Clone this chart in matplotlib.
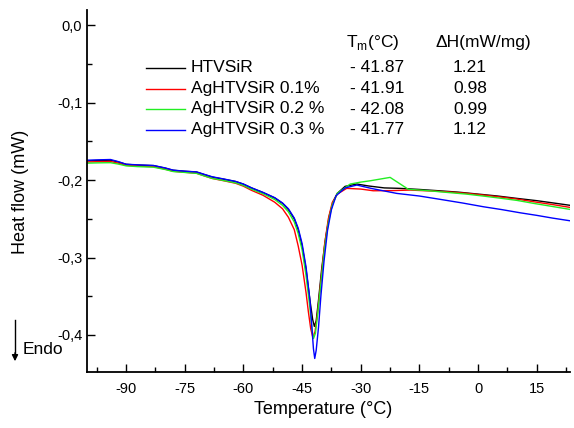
import numpy as np
import matplotlib.pyplot as plt
from matplotlib.ticker import FuncFormatter, MultipleLocator

plt.rcParams['font.family'] = ['Liberation Sans', 'DejaVu Sans']
plt.rcParams['axes.unicode_minus'] = False

# temperature (°C) / heat flow (mW)
t_black = [-100, -97, -94, -92, -90, -87, -83, -80, -78, -75, -72, -70, -68, -65, -62, -60,
           -58, -55, -52, -50, -48.5, -47, -46, -45, -44, -43, -42.3, -41.87, -41.4, -40.8,
           -40, -39, -38, -37, -36, -34, -31, -28, -24, -20, -15, -10, -5, 0, 5, 10, 15, 20, 23.5]
v_black = [-0.1750, -0.1745, -0.1742, -0.1765, -0.1795, -0.1805, -0.1812, -0.1845, -0.1872,
           -0.1885, -0.1895, -0.1928, -0.1960, -0.1988, -0.2018, -0.2052, -0.2100, -0.2160,
           -0.2230, -0.2300, -0.2380, -0.2500, -0.2640, -0.2850, -0.3150, -0.3550, -0.3800,
           -0.3890, -0.3820, -0.3550, -0.3150, -0.2750, -0.2450, -0.2270, -0.2170, -0.2080,
           -0.2050, -0.2075, -0.2100, -0.2106, -0.2120, -0.2137, -0.2155, -0.2180, -0.2205,
           -0.2236, -0.2265, -0.2300, -0.2325]

t_red = [-100, -97, -94, -92, -90, -87, -83, -80, -78, -75, -72, -70, -68, -65, -62, -60,
         -58, -55, -52, -50, -48.5, -47, -46, -45, -44, -43.4, -42.8, -42.25, -41.7, -41.0,
         -40.2, -39.3, -38.3, -37.3, -36, -33.6, -30, -26.8, -22, -17.4, -12, -8, -3, 1.4,
         6, 10, 14.2, 19, 23.5]
v_red = [-0.1765, -0.1760, -0.1758, -0.1780, -0.1808, -0.1818, -0.1825, -0.1858, -0.1885,
         -0.1898, -0.1910, -0.1945, -0.1978, -0.2008, -0.2040, -0.2078, -0.2130, -0.2195,
         -0.2285, -0.2370, -0.2480, -0.2640, -0.2850, -0.3100, -0.3450, -0.3700, -0.3920,
         -0.4034, -0.3960, -0.3700, -0.3300, -0.2850, -0.2500, -0.2290, -0.2180, -0.2106,
         -0.2115, -0.2137, -0.2135, -0.2128, -0.2140, -0.2150, -0.2170, -0.2193, -0.2220,
         -0.2245, -0.2279, -0.2315, -0.2352]

t_green = [-100, -97, -94, -92, -90, -87, -83, -80, -78, -75, -72, -70, -68, -65, -62, -60,
           -58, -55, -52, -50, -48.5, -47, -46, -45, -44, -43, -42.5, -42.08, -41.6, -41.0,
           -40.2, -39.3, -38.3, -37.3, -36, -32.7, -30, -27.6, -22.5, -17.8, -13, -8, -3,
           1.4, 6, 10, 14.2, 19, 23.5]
v_green = [-0.1780, -0.1776, -0.1774, -0.1792, -0.1815, -0.1825, -0.1832, -0.1862, -0.1888,
           -0.1900, -0.1912, -0.1945, -0.1976, -0.2005, -0.2035, -0.2068, -0.2115, -0.2175,
           -0.2250, -0.2325, -0.2410, -0.2540, -0.2690, -0.2900, -0.3230, -0.3650, -0.3920,
           -0.4047, -0.3980, -0.3720, -0.3335, -0.2900, -0.2550, -0.2320, -0.2170, -0.2050,
           -0.2025, -0.2008, -0.1964, -0.2119, -0.2135, -0.2158, -0.2180, -0.2206, -0.2235,
           -0.2262, -0.2300, -0.2340, -0.2378]

t_blue = [-100, -97, -94, -92, -90, -87, -83, -80, -78, -75, -72, -70, -68, -65, -62, -60,
          -58, -55, -52, -50, -48.5, -47, -46, -45, -44, -43, -42.5, -42.1, -41.77, -41.4,
          -40.8, -40.2, -39.4, -38.5, -37.5, -36.3, -34, -31, -27, -20.8, -15, -9.7, -4,
          1.4, 6, 10.8, 15, 19, 23.5]
v_blue = [-0.1742, -0.1737, -0.1733, -0.1760, -0.1794, -0.1802, -0.1810, -0.1842, -0.1870,
          -0.1884, -0.1893, -0.1925, -0.1956, -0.1985, -0.2016, -0.2050, -0.2097, -0.2158,
          -0.2226, -0.2295, -0.2370, -0.2490, -0.2620, -0.2820, -0.3120, -0.3550, -0.3900,
          -0.4180, -0.4305, -0.4200, -0.3900, -0.3500, -0.3050, -0.2650, -0.2380, -0.2200,
          -0.2100, -0.2063, -0.2110, -0.2171, -0.2205, -0.2248, -0.2295, -0.2344, -0.2380,
          -0.2422, -0.2455, -0.2490, -0.2525]

series = [
    ('HTVSiR', t_black, v_black, 'black', '- 41.87', '1.21'),
    ('AgHTVSiR 0.1%', t_red, v_red, 'red', '- 41.91', '0.98'),
    ('AgHTVSiR 0.2 %', t_green, v_green, '#22ee22', '- 42.08', '0.99'),
    ('AgHTVSiR 0.3 %', t_blue, v_blue, 'blue', '- 41.77', '1.12'),
]

W, H = 574, 428
fig = plt.figure(figsize=(W / 100, H / 100), dpi=100)
ax = fig.add_axes([87 / W, 1 - 372 / H, (570 - 87) / W, (372 - 10) / H])

for name, t, v, c, tm, dh in series:
    ax.plot(t, v, color=c, lw=1.0)

ax.set_xlim(-100, 23.5)
ax.set_ylim(-0.448, 0.02)
ax.xaxis.set_major_locator(MultipleLocator(15))
ax.xaxis.set_minor_locator(MultipleLocator(7.5))
ax.yaxis.set_major_locator(MultipleLocator(0.1))
ax.yaxis.set_minor_locator(MultipleLocator(0.05))
ax.yaxis.set_major_formatter(FuncFormatter(lambda y, p: ('%.1f' % y).replace('.', ',').replace('-0,0', '0,0')))
ax.tick_params(which='major', direction='in', length=6, width=1, labelsize=10.5)
ax.tick_params(which='minor', direction='in', length=3.5, width=1)
ax.tick_params(axis='x', pad=7)
ax.spines['top'].set_visible(False)
ax.spines['right'].set_visible(False)
for s in ('left', 'bottom'):
    ax.spines[s].set_linewidth(1.3)

ax.set_xlabel('Temperature (°C)', fontsize=13)
ax.set_ylabel('Heat flow (mW)', fontsize=13)
ax.xaxis.set_label_coords((323 - 87) / (570 - 87), -(401 - 372) / (372 - 10))
ax.yaxis.set_label_coords(-(87 - 29) / (570 - 87), (372 - 192) / (372 - 10))


def fx(px):
    return px / W


def fy(py):
    return 1 - py / H


# table-style legend
fs = 12.5
fig.text(fx(346), fy(42), r'T$_\mathregular{m}$(°C)', fontsize=fs, va='center')
fig.text(fx(436), fy(42), 'ΔH(mW/mg)', fontsize=fs, va='center')
rows = [68, 88.5, 109, 129.5]
for (name, t, v, c, tm, dh), ry in zip(series, rows):
    fig.add_artist(plt.Line2D([fx(146), fx(185)], [fy(ry), fy(ry)], color=c, lw=1.0))
    fig.text(fx(191), fy(ry), name, fontsize=fs, va='center')
    fig.text(fx(350), fy(ry), tm, fontsize=fs, va='center')
    fig.text(fx(453), fy(ry), dh, fontsize=fs, va='center')

# Endo arrow
fig.add_artist(plt.Line2D([fx(15), fx(15)], [fy(320), fy(356)], color='black', lw=1.0))
ax.annotate('', xy=(fx(15), fy(364)), xytext=(fx(15), fy(350)), xycoords='figure fraction',
            arrowprops=dict(arrowstyle='-|>', color='black', lw=1.0, mutation_scale=9))
fig.text(fx(23), fy(349), 'Endo', fontsize=fs, va='center')

fig.savefig('out.png', dpi=100)
